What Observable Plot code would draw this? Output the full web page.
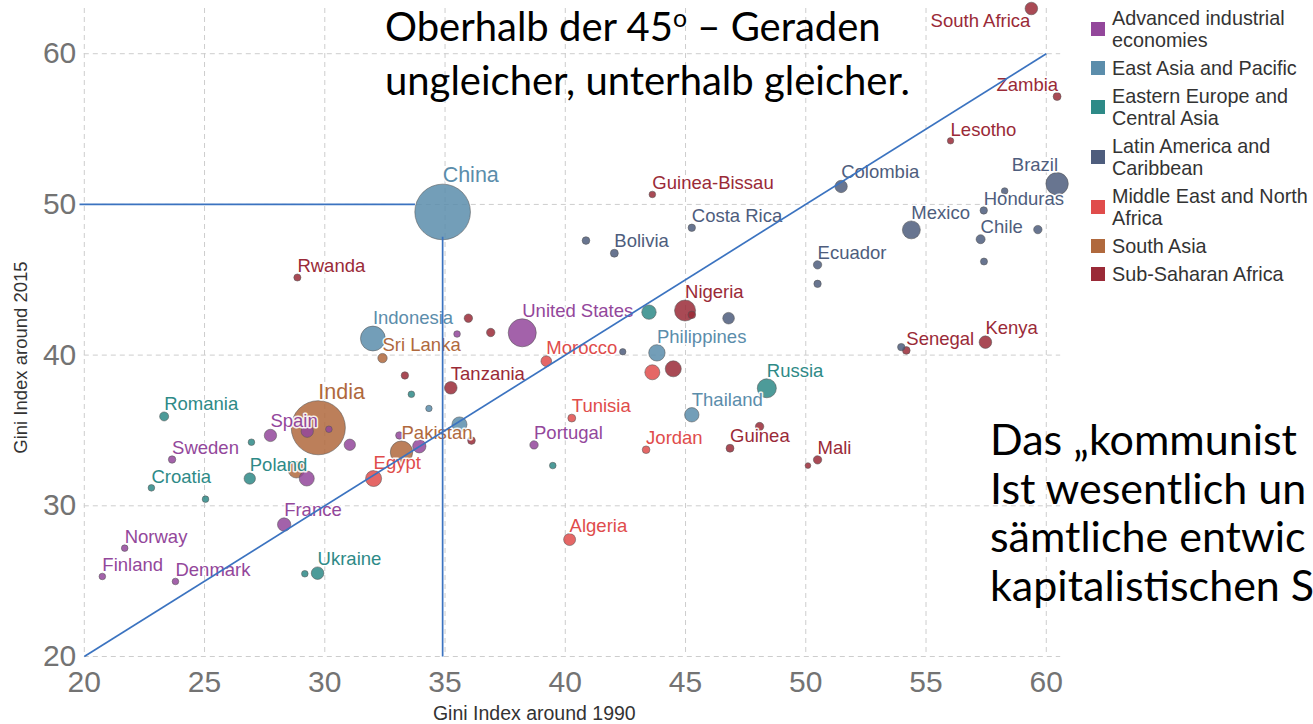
<!DOCTYPE html>
<html><head><meta charset="utf-8">
<script src="https://cdn.jsdelivr.net/npm/d3@7"></script>
<script src="https://cdn.jsdelivr.net/npm/@observablehq/plot@0.6"></script>
<style>
html,body{margin:0;padding:0;background:#fff;overflow:hidden;width:1313px;height:724px}
#wrap{position:relative;width:1313px;height:724px}
#chart svg{display:block}
#legend{position:absolute;left:1091px;top:7px;font-family:"Liberation Sans",Arial,sans-serif;font-size:19.8px;line-height:22px;color:#333}
.item{display:flex;align-items:center;margin-bottom:6px;white-space:nowrap}
.sw{width:14px;height:14px;margin-right:7px;flex:none}
.note{position:absolute;font-family:Lato,sans-serif;color:#000;white-space:nowrap}
.note sup{font-size:62%;vertical-align:0;position:relative;top:-0.55em}
</style></head><body><div id="wrap"><div id="chart"></div><div id="legend"></div>
<div class="note" style="left:385px;top:2px;font-size:40px;line-height:48px"><div>Oberhalb der 45<sup>o</sup> – Geraden</div><div>ungleicher, unterhalb gleicher.</div></div>
<div class="note" style="left:990px;top:415px;font-size:43px;line-height:48.5px"><div>Das „kommunist</div><div>Ist wesentlich un</div><div>sämtliche entwic</div><div>kapitalistischen S</div></div>
</div>
<script>
// ---- data ----
const regionNames = ["Advanced industrial economies","East Asia and Pacific","Eastern Europe and Central Asia","Latin America and Caribbean","Middle East and North Africa","South Asia","Sub-Saharan Africa"];
const regionLegendLines = [["Advanced industrial","economies"],["East Asia and Pacific"],["Eastern Europe and","Central Asia"],["Latin America and","Caribbean"],["Middle East and North","Africa"],["South Asia"],["Sub-Saharan Africa"]];
const regionColors = ["#93479b","#5b8dab","#2e8a87","#4e5d7d","#e04c4b","#b0693d","#9a2a37"];

const countries = ["China","India","United States","Indonesia","Sri Lanka","Tanzania","Rwanda","Romania","Spain","Sweden","Croatia","Poland","France","Norway","Finland","Denmark","Ukraine","Pakistan","Egypt","Algeria","Portugal","Tunisia","Jordan","Guinea","Thailand","Russia","Philippines","Morocco","Nigeria","Bolivia","Costa Rica","Guinea-Bissau","Colombia","Ecuador","Mexico","Chile","Honduras","Brazil","Lesotho","Zambia","South Africa","Senegal","Kenya","Mali",
  "","","","","","","","","","","","","","","","","","","","","","","","","","","","","","","","",""];
const regionCode = [1,5,0,1,5,6,6,2,0,0,2,2,0,0,0,0,2,5,4,4,0,4,4,6,1,2,1,4,6,3,3,6,3,3,3,3,3,3,6,6,6,6,6,6,
  6,0,6,6,2,1,1,0,0,0,2,2,5,0,0,0,6,2,3,2,6,3,3,4,6,2,6,3,3,3,3,3,6];
const gini1990 = [34.9,29.73,38.21,32.0,32.4,35.24,28.86,23.32,27.74,23.65,22.79,26.88,28.31,21.68,20.75,23.79,29.7,33.19,32.03,40.18,38.7,40.27,43.36,46.85,45.26,48.38,43.81,39.21,44.98,42.04,45.26,43.62,51.47,50.49,54.39,57.27,57.4,60.45,56.02,60.45,59.38,54.18,57.47,50.49,
  35.97,35.5,36.9,33.33,33.6,34.33,35.6,29.27,30.17,31.04,26.95,25.04,28.82,29.25,33.1,33.93,36.1,29.17,40.86,43.48,45.26,46.79,42.39,43.62,44.49,39.48,48.08,58.27,59.65,57.41,50.49,53.97,50.09];
const gini2015 = [49.5,35.18,41.48,41.1,39.8,37.83,45.15,35.93,34.67,33.07,31.19,31.81,28.76,27.19,25.31,24.98,25.53,33.56,31.81,27.76,34.04,35.82,33.72,33.82,36.04,37.8,40.15,39.6,42.96,46.76,48.45,50.66,51.19,45.99,48.31,47.69,49.6,51.37,54.22,57.16,63.0,40.31,40.86,33.05,
  42.45,41.4,41.5,38.65,37.4,36.46,35.4,34.95,35.08,34.05,34.22,30.44,32.39,31.81,34.67,33.95,34.33,25.49,47.6,42.85,42.67,42.45,40.22,38.86,39.09,32.67,35.26,50.89,48.33,46.21,44.73,40.53,32.67];
const population = [1380,1300,300,225,15,38,5,13,36,6,3.5,28,45,3.5,3.5,3.5,38,175,75,33,10,8,7,8,56,117,80,23,150,8,6,3.5,36,10,101,13,6,175,3,8,38,7,38,10,
  10,3.5,10,6,3.5,3,63,36,3.5,28,3.5,3.5,80,63,6,45,7,3.5,7,56,7,30,3,63,75,3.5,10,3.5,10,4.7,6,6,1.5];

const xTicks = [20,25,30,35,40,45,50,55,60];
const yTicks = [20,30,40,50,60];
const guides = [
  {x1:20, y1:20, x2:60, y2:60},      // 45-degree line
  {x1:19.8, y1:50, x2:33.75, y2:50}, // China level
  {x1:34.9, y1:20, x2:34.9, y2:47.85}
];
const endAnchored = ["Zambia","Brazil"];
const bigLabels = ["China","India"];

// ---- build table ----
const rows = countries.map((name,i)=>({name, region: regionNames[regionCode[i]], x: gini1990[i], y: gini2015[i], pop: population[i]}));
const rMin = 2, rMax = 28, popMax = 1400;
const rScale = d3.scaleSqrt().domain([0,popMax]).range([rMin,rMax]);
const colorOf = new Map(regionNames.map((r,i)=>[r,regionColors[i]]));

const labelMarks = rows.filter(d=>d.name).map(d=>{
  const r = rScale(d.pop);
  const big = bigLabels.includes(d.name);
  const common = {x:"x", y:"y", text:"name", fill: colorOf.get(d.region), stroke:"white", strokeWidth:3, strokeOpacity:0.9,
    fontFamily:"Liberation Sans, Arial, sans-serif", fontSize: big ? 21.5 : 18.5};
  if (d.name === "South Africa") return Plot.text([d], {...common, textAnchor:"end", lineAnchor:"top", dx:-1, dy:5});
  if (endAnchored.includes(d.name)) return Plot.text([d], {...common, textAnchor:"end", lineAnchor:"bottom", dx:1, dy:-(r+2)});
  return Plot.text([d], {...common, textAnchor:"start", lineAnchor:"bottom", dx:0, dy:-(r+2)});
});

const chart = Plot.plot({
  width: 1313, height: 724,
  marginLeft: 83.8, marginRight: 252.8, marginTop: 8, marginBottom: 68,
  style: {fontFamily: "'Liberation Sans Narrow', 'Liberation Sans', Arial, sans-serif", fontSize: "30px", color: "#737373", background: "transparent"},
  x: {domain:[20,60.6], ticks: xTicks, tickSize: 0, tickPadding: 14, label: null, tickFormat: d=>String(d)},
  y: {domain:[20,63], ticks: yTicks, tickSize: 0, tickPadding: 8, label: null, tickFormat: d=>String(d)},
  r: {type:"sqrt", domain:[0,popMax], range:[rMin,rMax]},
  color: {domain: regionNames, range: regionColors},
  marks: [
    Plot.ruleX(xTicks, {x: d=>d, stroke:"#cdcdcd", strokeWidth:1, strokeDasharray:"5,4"}),
    Plot.ruleY(yTicks, {y: d=>d, stroke:"#cdcdcd", strokeWidth:1, strokeDasharray:"5,4"}),
    Plot.dot(rows, {x:"x", y:"y", r:"pop", fill:"region", fillOpacity:0.85, stroke:"#555", strokeOpacity:0.55, strokeWidth:1}),
    ...labelMarks,
    Plot.link(guides, {x1:"x1", y1:"y1", x2:"x2", y2:"y2", stroke:"#3b73c0", strokeWidth:1.7}),
    Plot.text(["Gini Index around 1990"], {frameAnchor:"bottom-left", dx:450, dy:63, textAnchor:"middle", lineAnchor:"bottom", fill:"#333", fontSize:19.5, fontFamily:"Liberation Sans, Arial, sans-serif"}),
    Plot.text(["Gini Index around 2015"], {frameAnchor:"left", dx:-57, dy:25, rotate:-90, textAnchor:"middle", lineAnchor:"bottom", fill:"#333", fontSize:18.5, fontFamily:"Liberation Sans, Arial, sans-serif"})
  ]
});
document.getElementById("chart").appendChild(chart);

// ---- legend ----
const legend = document.getElementById("legend");
regionNames.forEach((r,i)=>{
  const it = document.createElement("div"); it.className="item";
  const sw = document.createElement("div"); sw.className="sw"; sw.style.background = regionColors[i];
  const tx = document.createElement("div"); tx.innerHTML = regionLegendLines[i].join("<br>");
  it.appendChild(sw); it.appendChild(tx); legend.appendChild(it);
});
</script></body></html>
